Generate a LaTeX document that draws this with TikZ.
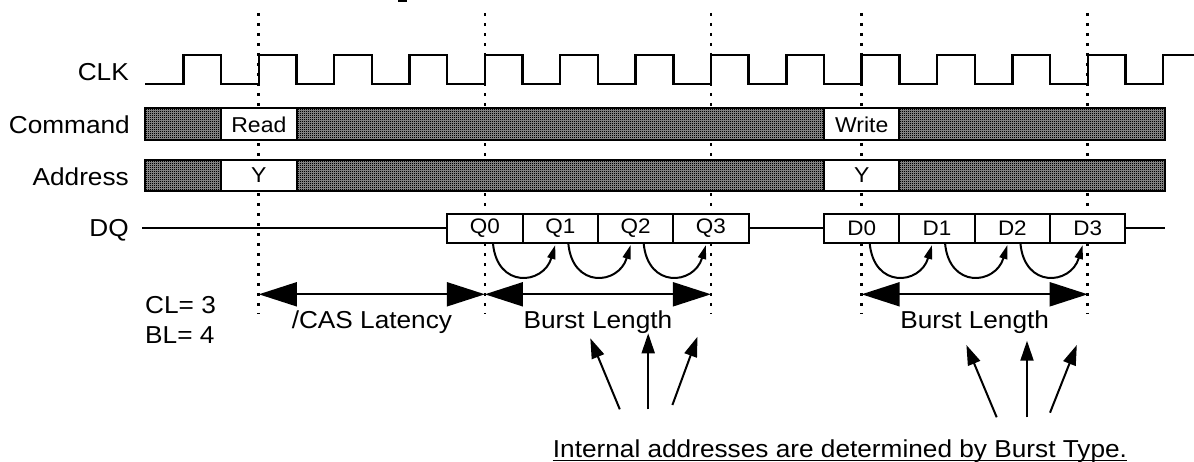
\documentclass[tikz,border=0pt]{standalone}
\usepackage{fontspec}
\setmainfont{Liberation Sans}[FakeStretch=1.07]
\usetikzlibrary{arrows.meta,patterns}
\pgfdeclarepatternformonly{finecheck}{\pgfqpoint{0pt}{0pt}}{\pgfqpoint{2pt}{2pt}}{\pgfqpoint{2pt}{2pt}}{%
  \pgfpathrectangle{\pgfqpoint{0pt}{0pt}}{\pgfqpoint{1.15pt}{1.15pt}}%
  \pgfpathrectangle{\pgfqpoint{1pt}{1pt}}{\pgfqpoint{1.15pt}{1.15pt}}%
  \pgfusepath{fill}}
\tikzset{
  sig/.style={line width=2.4pt, line join=miter},
  hatchrow/.style={draw, line width=2pt, preaction={fill=black!42}, pattern=finecheck, pattern color=black},
  wbox/.style={draw, line width=2pt, fill=white, inner sep=0pt, outer sep=0pt,
    font=\fontsize{21.5}{25}\selectfont},
  dqlab/.style={font=\fontsize{21}{25}\selectfont},
  rowlab/.style={font=\fontsize{24.5}{28}\selectfont, inner sep=0pt, anchor=base east},
  txt/.style={font=\fontsize{24.5}{28}\selectfont, inner sep=0pt},
  dotline/.style={line width=2.8pt, dash pattern=on 2.8pt off 7.2pt},
  hoparrow/.style={line width=2pt, -{Triangle[length=14pt,width=8pt]}},
  spanarrow/.style={line width=2pt, {Triangle[length=38pt,width=24pt]}-{Triangle[length=38pt,width=24pt]}},
  pointer/.style={line width=2pt, -{Triangle[length=20pt,width=13pt]}},
}
\begin{document}
\begin{tikzpicture}[x=1pt,y=-1pt]
\useasboundingbox (0,0) rectangle (1194,462);
% remnant of cut-off title
\fill (398,0) rectangle (407,2.5);
% dotted reference lines
\foreach \xx in {258.85,484.9,710.95,861.65,1087.7}
  \draw[dotline] (\xx,13) -- (\xx,314);
% clock
\draw[sig] (145,84) foreach \k in {0,...,12} {
   -- ({183.5+75.35*\k},84) -- ({183.5+75.35*\k},55)
   -- ({221.2+75.35*\k},55) -- ({221.2+75.35*\k},84) }
   -- (1163.05,84) -- (1163.05,55) -- (1194,55);
% row labels
\node[rowlab] (lclk) at (129,80.5) {CLK};
\node[rowlab] (lcmd) at (130,133.5) {Command};
\node[rowlab] (ladr) at (129,185.5) {Address};
\node[rowlab] (ldq)  at (129,237) {DQ};
% command / address rows
\draw[hatchrow] (145,108.5) rectangle (1165,140.5);
\draw[hatchrow] (145,160) rectangle (1165,191);
\node[wbox, minimum width=75.35pt, minimum height=32pt] (read)  at (258.875,124.5) {Read};
\node[wbox, minimum width=75.35pt, minimum height=32pt] (write) at (861.675,124.5) {Write};
\node[wbox, minimum width=75.35pt, minimum height=31pt] (ya) at (258.875,175.5) {Y};
\node[wbox, minimum width=75.35pt, minimum height=31pt] (yb) at (861.675,175.5) {Y};
% DQ line
\draw[line width=2pt] (142,228.5) -- (1165,228.5);
\foreach \n/\c in {q0/484.925,q1/560.275,q2/635.625,q3/710.975}
  \node[wbox, minimum width=75.35pt, minimum height=29pt] (\n) at (\c,228.5) {};
\node[dqlab] at (q0) {Q0};
\node[dqlab] at (q1) {Q1};
\node[dqlab] at (q2) {Q2};
\node[dqlab] at (q3) {Q3};
\foreach \n/\c in {d0/861.675,d1/937.025,d2/1012.375,d3/1087.725}
  \node[wbox, minimum width=75.35pt, minimum height=29pt] (\n) at (\c,228.5) {};
\node[dqlab] at (d0) {D0};
\node[dqlab] at (d1) {D1};
\node[dqlab] at (d2) {D2};
\node[dqlab] at (d3) {D3};
% burst hops
\foreach \a/\b in {q0/q1,q1/q2,q2/q3,d0/d1,d1/d2,d2/d3}
  \draw[hoparrow] ([xshift=8pt]\a.south) .. controls +(4,46) and +(-12,40) .. ([xshift=-5pt,yshift=-2pt]\b.south);
% spans
\coordinate (s1) at (258.85,294.3);
\coordinate (s2) at (484.9,294.3);
\coordinate (s3) at (710.95,294.3);
\coordinate (s4) at (861.65,294.3);
\coordinate (s5) at (1087.7,294.3);
\draw[spanarrow] (s1) -- (s2);
\draw[spanarrow] (s2) -- (s3);
\draw[spanarrow] (s4) -- (s5);
\node[txt, anchor=base] (cas) at (371.9,328.5) {/CAS Latency};
\node[txt, anchor=base] (bl1) at (597.9,328.5) {Burst Length};
\node[txt, anchor=base] (bl2) at (974.7,328.5) {Burst Length};
\node[txt, anchor=base west] (cl) at (145,313) {CL= 3};
\node[txt, anchor=base west] (blv) at (145,343.5) {BL= 4};
% pointers
\coordinate (p1) at (619.8,409.3); \coordinate (t1) at (590.3,338.3);
\coordinate (p2) at (648.2,409.3); \coordinate (t2) at (648.2,333.3);
\coordinate (p3) at (672.4,405);   \coordinate (t3) at (697.5,336.7);
\coordinate (p4) at (996.7,417.3); \coordinate (t4) at (966.4,345);
\coordinate (p5) at (1027,417.3);  \coordinate (t5) at (1027,340.7);
\coordinate (p6) at (1050,412.7);  \coordinate (t6) at (1076.8,345);
\foreach \i in {1,...,6} \draw[pointer] (p\i) -- (t\i);
% note
\node[txt, anchor=base west] (note) at (552.7,457.5) {Internal addresses are determined by Burst Type.};
\draw[line width=1.5pt] ([yshift=-3pt]note.base west) -- ([yshift=-3pt]note.base east);
\end{tikzpicture}
\end{document}
